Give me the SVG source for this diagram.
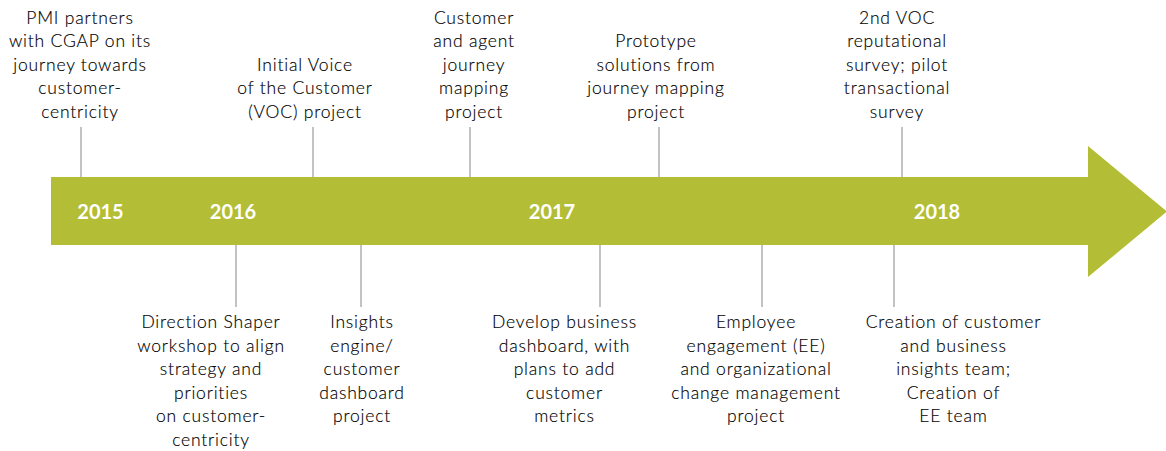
<svg xmlns="http://www.w3.org/2000/svg" width="1166" height="451" viewBox="0 0 1166 451">
<style>
.lbl{font-family:Lato,"Open Sans","Liberation Sans",sans-serif;font-size:17.5px;font-weight:300;letter-spacing:0.8px;fill:#000000;stroke:#000000;stroke-width:0.15;text-anchor:middle}
.yr{font-family:Lato,"Liberation Sans",sans-serif;font-size:20px;font-weight:bold;fill:#ffffff;text-anchor:middle}
.tick{stroke:#a7a9ac;stroke-width:1.4;fill:none}
</style>
<rect width="1166" height="451" fill="#ffffff"/>
<g id="timeline">
<path d="M51 177 H1088 V146 L1167 211.5 L1088 277 V245 H51 Z" fill="#b3bd35"/>
<text class="yr" x="100.5" y="219">2015</text>
<text class="yr" x="233" y="219">2016</text>
<text class="yr" x="552" y="219">2017</text>
<text class="yr" x="937" y="219">2018</text>
</g>
<g id="connectors">
<line class="tick" x1="81" y1="127" x2="81" y2="177"/>
<line class="tick" x1="313" y1="127" x2="313" y2="177"/>
<line class="tick" x1="470" y1="127" x2="470" y2="177"/>
<line class="tick" x1="659" y1="127" x2="659" y2="177"/>
<line class="tick" x1="902" y1="127" x2="902" y2="177"/>
<line class="tick" x1="236" y1="245" x2="236" y2="307"/>
<line class="tick" x1="361" y1="245" x2="361" y2="307"/>
<line class="tick" x1="600" y1="245" x2="600" y2="307"/>
<line class="tick" x1="762" y1="245" x2="762" y2="307"/>
<line class="tick" x1="894" y1="245" x2="894" y2="307"/>
</g>
<g id="e2015">
<text class="lbl"><tspan x="80" y="23.5">PMI partners</tspan><tspan x="80" y="47">with CGAP on its</tspan><tspan x="80" y="70.5">journey towards</tspan><tspan x="80" y="94">customer-</tspan><tspan x="80" y="117.5">centricity</tspan></text>
</g>
<g id="voc">
<text class="lbl"><tspan x="305" y="70.5">Initial Voice</tspan><tspan x="305" y="94">of the Customer</tspan><tspan x="305" y="117.5">(VOC) project</tspan></text>
</g>
<g id="journey">
<text class="lbl"><tspan x="474" y="23.5">Customer</tspan><tspan x="474" y="47">and agent</tspan><tspan x="474" y="70.5">journey</tspan><tspan x="474" y="94">mapping</tspan><tspan x="474" y="117.5">project</tspan></text>
</g>
<g id="prototype">
<text class="lbl"><tspan x="656" y="47">Prototype</tspan><tspan x="656" y="70.5">solutions from</tspan><tspan x="656" y="94">journey mapping</tspan><tspan x="656" y="117.5">project</tspan></text>
</g>
<g id="voc2">
<text class="lbl"><tspan x="897" y="23.5">2nd VOC</tspan><tspan x="897" y="47">reputational</tspan><tspan x="897" y="70.5">survey; pilot</tspan><tspan x="897" y="94">transactional</tspan><tspan x="897" y="117.5">survey</tspan></text>
</g>
<g id="direction">
<text class="lbl"><tspan x="211" y="328">Direction Shaper</tspan><tspan x="211" y="351.5">workshop to align</tspan><tspan x="211" y="375">strategy and</tspan><tspan x="211" y="398.5">priorities</tspan><tspan x="211" y="422">on customer-</tspan><tspan x="211" y="445.5">centricity</tspan></text>
</g>
<g id="insights">
<text class="lbl"><tspan x="362" y="328">Insights</tspan><tspan x="362" y="351.5">engine/</tspan><tspan x="362" y="375">customer</tspan><tspan x="362" y="398.5">dashboard</tspan><tspan x="362" y="422">project</tspan></text>
</g>
<g id="dashboard">
<text class="lbl"><tspan x="564.5" y="328">Develop business</tspan><tspan x="564.5" y="351.5">dashboard, with</tspan><tspan x="564.5" y="375">plans to add</tspan><tspan x="564.5" y="398.5">customer</tspan><tspan x="564.5" y="422">metrics</tspan></text>
</g>
<g id="employee">
<text class="lbl"><tspan x="756" y="328">Employee</tspan><tspan x="756" y="351.5">engagement (EE)</tspan><tspan x="756" y="375">and organizational</tspan><tspan x="756" y="398.5">change management</tspan><tspan x="756" y="422">project</tspan></text>
</g>
<g id="teams">
<text class="lbl"><tspan x="953.5" y="328">Creation of customer</tspan><tspan x="953.5" y="351.5">and business</tspan><tspan x="953.5" y="375">insights team;</tspan><tspan x="953.5" y="398.5">Creation of</tspan><tspan x="953.5" y="422">EE team</tspan></text>
</g>
</svg>
